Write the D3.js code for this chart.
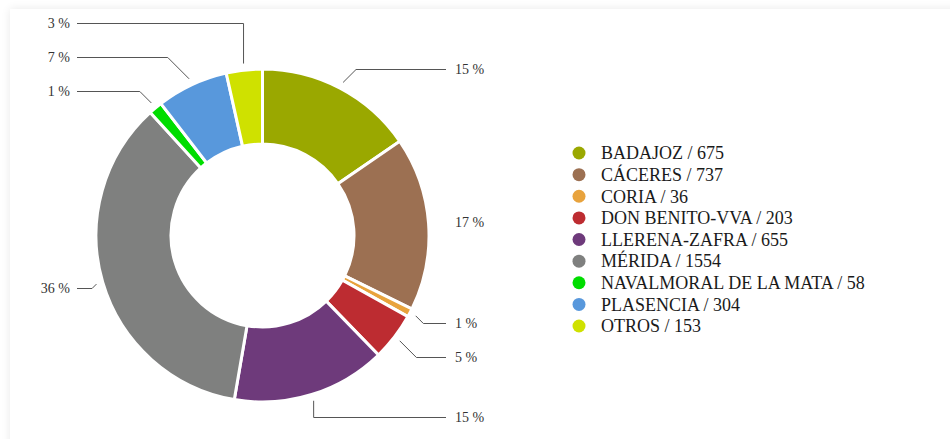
<!DOCTYPE html>
<html>
<head>
<meta charset="utf-8">
<script src="https://cdn.jsdelivr.net/npm/d3@7"></script>
<style>
  html, body { margin: 0; padding: 0; background: #fff; width: 950px; height: 439px; overflow: hidden; }
  #card { position: absolute; left: 10px; top: 9px; width: 960px; height: 460px; background: #fff;
          box-shadow: 0 0 9px rgba(0,0,0,0.09); }
  svg { position: absolute; left: 0; top: 0; font-family: 'Liberation Serif', serif; }
</style>
</head>
<body>
<div id="card"></div>
<svg id="chart" width="950" height="439"></svg>
<script>
const categories = ["BADAJOZ", "CÁCERES", "CORIA", "DON BENITO-VVA", "LLERENA-ZAFRA", "MÉRIDA", "NAVALMORAL DE LA MATA", "PLASENCIA", "OTROS"];
const values = [675, 737, 36, 203, 655, 1554, 58, 304, 153];
const colors = ["#9aa800", "#9c7052", "#e8a33d", "#bd2c31", "#6e3a7b", "#7f807f", "#00dd00", "#5898dc", "#cfe100"];

const svg = d3.select("#chart");
const cx = 262.5, cy = 235.5;
const outerR = 166.5, innerR = 91.5;
const total = d3.sum(values);

const arcs = d3.pie().sort(null).value(d => d)(values);
const arc = d3.arc().innerRadius(innerR).outerRadius(outerR);

const g = svg.append("g").attr("transform", `translate(${cx},${cy})`);
g.selectAll("path").data(arcs).join("path")
  .attr("d", arc)
  .attr("fill", (d, i) => colors[i])
  .attr("stroke", "#fff")
  .attr("stroke-width", 3);

// labels
const rStart = 173, rLabel = 188, gap = 34;
const labels = arcs.map((d, i) => {
  const mid = (d.startAngle + d.endAngle) / 2;
  const s = Math.sin(mid), c = Math.cos(mid);
  return {
    i, mid, s, side: s >= 0 ? 1 : -1,
    sx: cx + rStart * s, sy: cy - rStart * c,
    y: cy - rLabel * c,
    text: Math.round(d.value / total * 100) + " %"
  };
});
[1, -1].forEach(side => {
  const top = labels.filter(l => l.side === side && l.y < cy).sort((a, b) => b.y - a.y);
  for (let k = 1; k < top.length; k++) top[k].y = Math.min(top[k].y, top[k - 1].y - gap);
  const bot = labels.filter(l => l.side === side && l.y >= cy).sort((a, b) => a.y - b.y);
  for (let k = 1; k < bot.length; k++) bot[k].y = Math.max(bot[k].y + 2, bot[k - 1].y + gap);
});

const lineEndR = 446, lineEndL = 77, textR = 455, textL = 70;
labels.forEach(l => {
  const ly = Math.round(l.y) + 0.5;
  const dy = ly - l.sy;
  const ex = Math.abs(l.s) < 0.35 ? l.sx : l.sx + l.side * Math.abs(dy);
  const endX = l.side > 0 ? lineEndR : lineEndL;
  if (l.side * (endX - ex) >= 15) {
    svg.append("polyline")
      .attr("points", `${l.sx},${l.sy} ${ex},${ly} ${endX},${ly}`)
      .attr("fill", "none")
      .attr("stroke", "#555")
      .attr("stroke-width", 1);
  }
  svg.append("text")
    .attr("x", l.side > 0 ? textR : textL)
    .attr("y", ly)
    .attr("dy", "0.35em")
    .attr("text-anchor", l.side > 0 ? "start" : "end")
    .attr("font-size", 14)
    .attr("fill", "#333")
    .text(l.text);
});

// legend
const legY = d3.scaleLinear().domain([0, categories.length - 1]).range([153, 326]);
const leg = svg.append("g");
categories.forEach((c, i) => {
  leg.append("circle").attr("cx", 579).attr("cy", legY(i)).attr("r", 6.5).attr("fill", colors[i]);
  leg.append("text").attr("x", 601).attr("y", legY(i)).attr("dy", "0.35em")
    .attr("font-size", 18).attr("fill", "#1a1a1a")
    .text(`${c} / ${values[i]}`);
});
</script>
</body>
</html>
